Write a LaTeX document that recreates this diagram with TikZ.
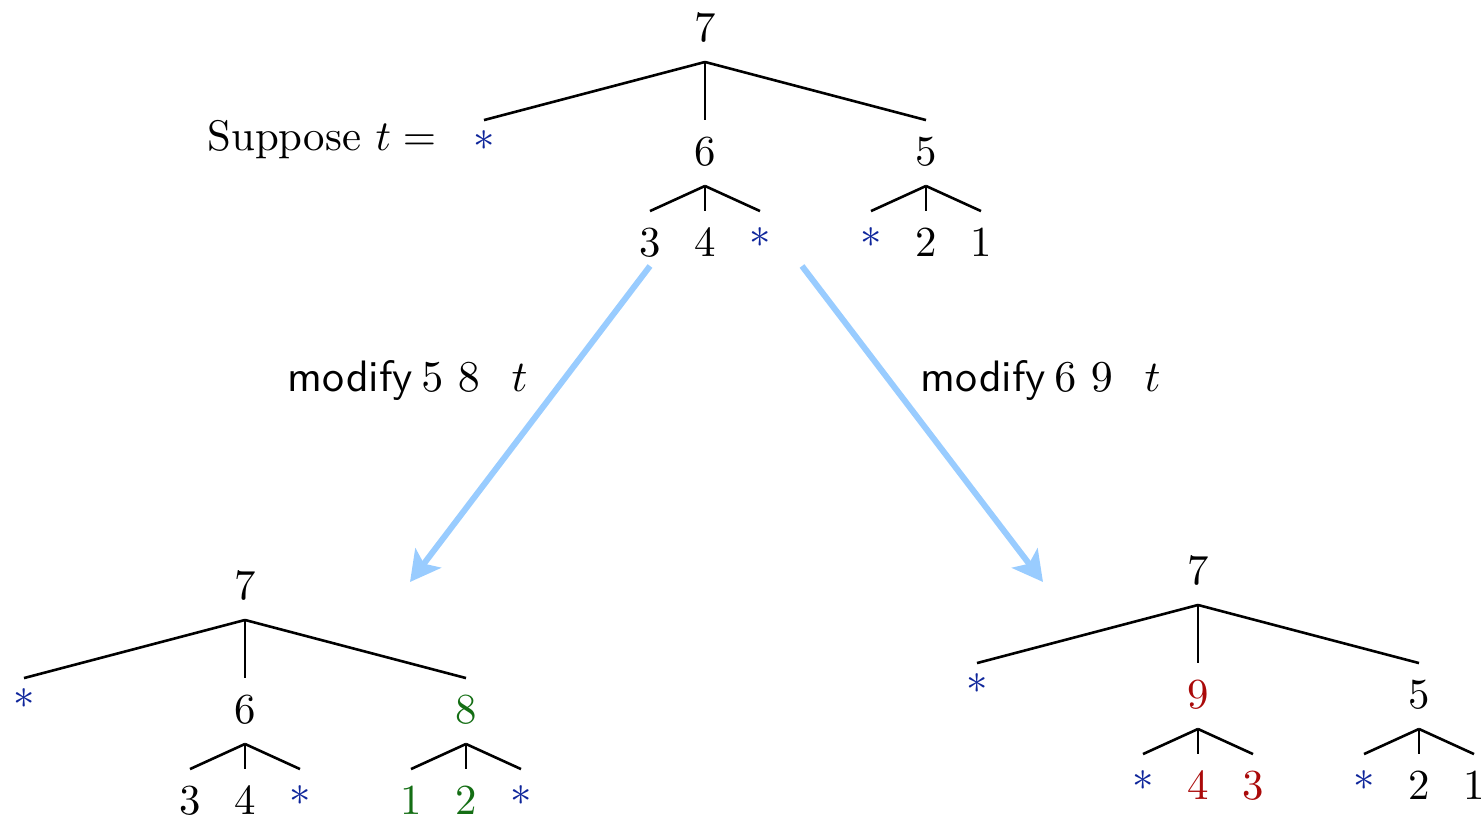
\documentclass[tikz,border=0pt]{standalone}
\usetikzlibrary{arrows.meta}
\definecolor{starblue}{RGB}{15,38,155}
\definecolor{newgreen}{RGB}{20,110,20}
\definecolor{newred}{RGB}{170,10,10}
\definecolor{flow}{RGB}{153,204,255}
\newcommand\hole[1]{\textcolor{starblue}{\raisebox{#1}{$\ast$}}}
\tikzset{
  big/.style={font=\fontsize{10}{12}\selectfont, scale=2.14},
  lbl/.style={big, anchor=base, inner sep=0pt, text height=10.3pt, text depth=4.7pt},
  op/.style={font=\fontsize{10}{12}\selectfont, scale=2.2, anchor=base west, inner sep=0pt},
  branch/.style={line width=1.3pt, black},
  flowarrow/.style={line width=3pt, flow, -{Stealth[length=15pt, width=16pt, inset=3.5pt]}},
}
\begin{document}
\begin{tikzpicture}[x=0.5pt, y=-0.5pt]
\useasboundingbox (0,0) rectangle (1484,821);

% original tree
\begin{scope}[shift={(705,41)}]
  \node[lbl] (t7) at (0,0) {7};
  \node[lbl] (ts) at (-221,124) {\hole{3.3pt}};
  \node[lbl] (t6) at (0,124) {6};
  \node[lbl] (t5) at (221,124) {5};
  \node[lbl] (t63) at (-55,215) {3};
  \node[lbl] (t64) at (0,215) {4};
  \node[lbl] (t6s) at (55,215) {\hole{2.1pt}};
  \node[lbl] (t5s) at (166,215) {\hole{2.1pt}};
  \node[lbl] (t52) at (221,215) {2};
  \node[lbl] (t51) at (276,215) {1};
  \foreach \c in {ts,t6,t5} \draw[branch] (t7.south) -- (\c.north);
  \foreach \c in {t63,t64,t6s} \draw[branch] (t6.south) -- (\c.north);
  \foreach \c in {t5s,t52,t51} \draw[branch] (t5.south) -- (\c.north);
\end{scope}
\node[big, anchor=base east, inner sep=0pt] (sup) at (437,150) {Suppose $t =$};

% tree after modify 5 8 t
\begin{scope}[shift={(245,599)}]
  \node[lbl] (a7) at (0,0) {7};
  \node[lbl] (as) at (-221,124) {\hole{3.3pt}};
  \node[lbl] (a6) at (0,124) {6};
  \node[lbl, text=newgreen] (a8) at (221,124) {8};
  \node[lbl] (a63) at (-55,215) {3};
  \node[lbl] (a64) at (0,215) {4};
  \node[lbl] (a6s) at (55,215) {\hole{2.1pt}};
  \node[lbl, text=newgreen] (a81) at (166,215) {1};
  \node[lbl, text=newgreen] (a82) at (221,215) {2};
  \node[lbl] (a8s) at (276,215) {\hole{2.1pt}};
  \foreach \c in {as,a6,a8} \draw[branch] (a7.south) -- (\c.north);
  \foreach \c in {a63,a64,a6s} \draw[branch] (a6.south) -- (\c.north);
  \foreach \c in {a81,a82,a8s} \draw[branch] (a8.south) -- (\c.north);
\end{scope}

% tree after modify 6 9 t
\begin{scope}[shift={(1198,584)}]
  \node[lbl] (b7) at (0,0) {7};
  \node[lbl] (bs) at (-221,124) {\hole{3.3pt}};
  \node[lbl, text=newred] (b9) at (0,124) {9};
  \node[lbl] (b5) at (221,124) {5};
  \node[lbl] (b9s) at (-55,215) {\hole{2.1pt}};
  \node[lbl, text=newred] (b94) at (0,215) {4};
  \node[lbl, text=newred] (b93) at (55,215) {3};
  \node[lbl] (b5s) at (166,215) {\hole{2.1pt}};
  \node[lbl] (b52) at (221,215) {2};
  \node[lbl] (b51) at (276,215) {1};
  \foreach \c in {bs,b9,b5} \draw[branch] (b7.south) -- (\c.north);
  \foreach \c in {b9s,b94,b93} \draw[branch] (b9.south) -- (\c.north);
  \foreach \c in {b5s,b52,b51} \draw[branch] (b5.south) -- (\c.north);
\end{scope}

% transitions
\coordinate (l0) at (650,266);
\coordinate (l1) at (410,582);
\coordinate (r0) at (802,266);
\coordinate (r1) at (1043,582);
\draw[flowarrow] (l0) -- (l1);
\draw[flowarrow] (r0) -- (r1);
\node[op] (ml) at (287,391)
  {\textsf{modify}\hspace{1.9pt}$5$\hspace{3.3pt}$8$\hspace{7.2pt}$t$};
\node[op] (mr) at (920,391)
  {\textsf{modify}\hspace{1.9pt}$6$\hspace{3.3pt}$9$\hspace{7.2pt}$t$};
\end{tikzpicture}
\end{document}
